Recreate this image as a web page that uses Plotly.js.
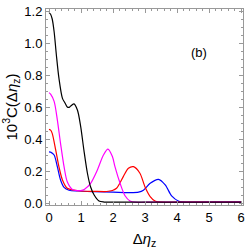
<!DOCTYPE html>
<html><head><meta charset="utf-8">
<script src="https://cdn.plot.ly/plotly-3.0.1.min.js"></script>
<style>html,body{margin:0;padding:0;background:#fff}</style>
</head><body>
<div id="chart" style="width:249px;height:249px"></div>
<script>
const blackX = [0, 0.05, 0.10, 0.16, 0.23, 0.31, 0.42, 0.50, 0.57, 0.63, 0.70, 0.78, 0.89, 0.99, 1.09, 1.20, 1.30, 1.41, 1.56, 1.72, 2.0, 3.0, 4.0, 5.0, 6.0];
const blackY = [1.19, 1.18, 1.15, 1.07, 0.925, 0.78, 0.654, 0.625, 0.60, 0.598, 0.61, 0.62, 0.58, 0.477, 0.33, 0.186, 0.10, 0.05, 0.0125, 0.006, 0.005, 0.005, 0.005, 0.005, 0.005];

const magentaX = [0, 0.05, 0.16, 0.26, 0.36, 0.47, 0.57, 0.73, 0.90, 0.99, 1.10, 1.30, 1.51, 1.70, 1.84, 1.98, 2.06, 2.22, 2.375, 2.53, 2.7, 3.0, 4.0, 5.0, 6.0];
const magentaY = [0.69, 0.68, 0.635, 0.52, 0.373, 0.227, 0.133, 0.085, 0.077, 0.078, 0.085, 0.123, 0.206, 0.30, 0.337, 0.29, 0.227, 0.123, 0.045, 0.0125, 0.005, 0.005, 0.005, 0.005, 0.005];

const redX = [0, 0.05, 0.10, 0.21, 0.31, 0.42, 0.57, 0.78, 1.0, 1.4, 1.8, 1.98, 2.11, 2.32, 2.48, 2.64, 2.84, 3.0, 3.16, 3.31, 3.5, 4.0, 5.0, 6.0];
const redY = [0.46, 0.455, 0.435, 0.33, 0.227, 0.144, 0.092, 0.08, 0.075, 0.073, 0.072, 0.078, 0.092, 0.165, 0.217, 0.227, 0.186, 0.10, 0.04, 0.0125, 0.005, 0.005, 0.005, 0.005];

const blueX = [0, 0.05, 0.16, 0.26, 0.36, 0.47, 0.625, 0.9, 1.4, 2.0, 2.5, 2.8, 2.95, 3.16, 3.42, 3.63, 3.78, 3.83, 4.04, 4.2, 5.0, 6.0];
const blueY = [0.32, 0.318, 0.30, 0.227, 0.144, 0.098, 0.08, 0.075, 0.071, 0.068, 0.065, 0.068, 0.08, 0.123, 0.148, 0.113, 0.06, 0.045, 0.0125, 0.005, 0.005, 0.005];

const xTickVals = [0, 1, 2, 3, 4, 5, 6];
const yTickVals = [0, 0.2, 0.4, 0.6, 0.8, 1.0, 1.2];
const yTickText = ['0.0', '0.2', '0.4', '0.6', '0.8', '1.0', '1.2'];

function tr(x, y, c) {
  return {x: x, y: y, type: 'scatter', mode: 'lines',
    line: {color: c, width: 1.2, shape: 'spline', smoothing: 0.8}, hoverinfo: 'skip'};
}
const data = [
  tr(blueX, blueY, '#0000ff'),
  tr(redX, redY, '#ff0000'),
  tr(magentaX, magentaY, '#ff00ff'),
  tr(blackX, blackY, '#000000')
];
const FONT = 'Liberation Sans, Arial, sans-serif';
const axCommon = {
  showline: true, linecolor: '#999', linewidth: 1, mirror: 'ticks',
  ticks: 'inside', ticklen: 4, tickcolor: '#999', tickwidth: 1,
  showgrid: false, zeroline: false,
  tickfont: {family: FONT, size: 13, color: '#000'}
};
const layout = {
  width: 249, height: 249,
  margin: {l: 46, r: 6, t: 9, b: 44},
  paper_bgcolor: '#fff', plot_bgcolor: '#fff',
  showlegend: false,
  xaxis: Object.assign({}, axCommon, {
    range: [-0.094, 6.06], tickvals: xTickVals, ticktext: xTickVals.map(String),
    minor: {dtick: 0.2, tick0: 0, ticks: 'inside', ticklen: 2, tickcolor: '#999', showgrid: false},
    title: {text: 'Δ<i>η</i><sub>z</sub>', font: {family: FONT, size: 15, color: '#000'}, standoff: 14}
  }),
  yaxis: Object.assign({}, axCommon, {
    range: [-0.0125, 1.2125], tickvals: yTickVals, ticktext: yTickText,
    minor: {dtick: 0.05, tick0: 0, ticks: 'inside', ticklen: 2, tickcolor: '#999', showgrid: false},
    title: {text: '10<sup>3</sup>C(Δ<i>η</i><sub>z</sub>)', font: {family: FONT, size: 15, color: '#000'}, standoff: 3}
  }),
  annotations: [{
    x: 4.7, y: 0.94, xref: 'x', yref: 'y', text: '(b)', showarrow: false,
    font: {family: FONT, size: 13, color: '#000'}
  }]
};
Plotly.newPlot('chart', data, layout, {staticPlot: true, displayModeBar: false});
</script>
</body></html>
